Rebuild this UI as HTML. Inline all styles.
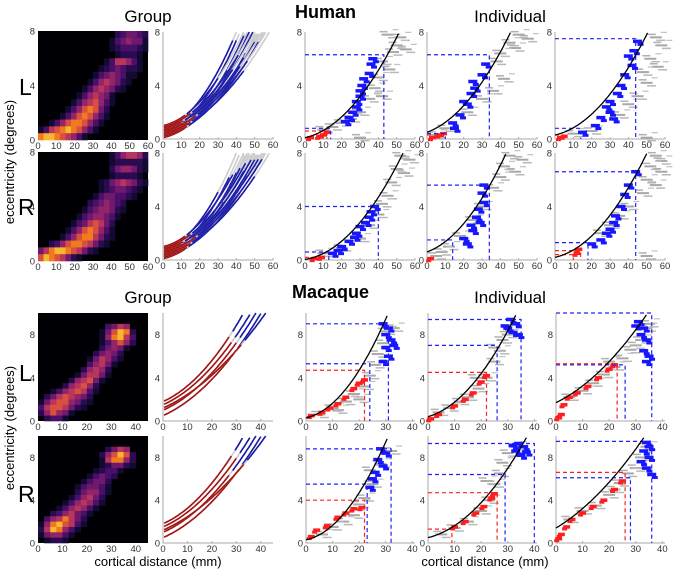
<!DOCTYPE html>
<html><head><meta charset="utf-8"><style>
html,body{margin:0;padding:0;background:#fff;}
svg{display:block;font-family:"Liberation Sans",sans-serif;}
</style></head><body>
<svg id="fig" width="676" height="574" viewBox="0 0 676 574">
<text x="148" y="22" font-size="17" text-anchor="middle">Group</text>
<text x="295" y="18" font-size="18" font-weight="bold">Human</text>
<text x="510" y="22" font-size="17" text-anchor="middle">Individual</text>
<text x="148" y="303" font-size="17" text-anchor="middle">Group</text>
<text x="292" y="298" font-size="18" font-weight="bold">Macaque</text>
<text x="510" y="303" font-size="17" text-anchor="middle">Individual</text>
<text x="19" y="95" font-size="23">L</text>
<text x="18" y="215" font-size="23">R</text>
<text x="19" y="381" font-size="23">L</text>
<text x="18" y="502" font-size="23">R</text>
<text transform="translate(14,162) rotate(-90)" font-size="13" text-anchor="middle">eccentricity (degrees)</text>
<text transform="translate(14,428) rotate(-90)" font-size="13" text-anchor="middle">eccentricity (degrees)</text>
<text x="158" y="566" font-size="13" text-anchor="middle">cortical distance (mm)</text>
<text x="485" y="566" font-size="13" text-anchor="middle">cortical distance (mm)</text>
</svg>
<script>
// ---------- data ----------
const heatHL=["00000000000000234432","00000000000001345441","00000000000001233321","00000000000000122210","00000000000013665310","00000000000123432210","00000000001345431100","00000000013565421000","00000000135654210000","00000001356541000000","00000013567531000000","00000135787420000000","00001357875310000000","00135788753100000000","13678987531000000000","89987653100000000000"];
const heatHR=["00000000000001356652","00000000000001222221","00000000000002455421","00000000000001222210","00000000000124565421","00000000000123443210","00000000001344332100","00000000023454320000","00000000134554210000","00000001345543100000","00000013467642000000","00000135787531000000","00001357886421000000","00235788764210000000","46899876421000000000","79876421000000000000"];
const heatML=["000000000000000000","000000000000000000","000000000003465000","000000000014798200","000000000015896300","000000000013575200","000000000024541000","000000000245420000","000000001465310000","000000003564100000","000000025652000000","000000146641000000","000002567410000000","000025675200000000","001356763100000000","024676542000000000","146775421000000000","367764210000000000","257541000000000000","023310000000000000"];
const heatMR=["000000000000000000","000000000000000000","000000000002465000","000000000025797200","000000000016885200","000000000012442100","000000000123310000","000000001343200000","000000013442000000","000000134431000000","000000245531000000","000001356420000000","000013565310000000","000135653100000000","002356431000000000","035686420000000000","158976310000000000","269853100000000000","145531000000000000","012210000000000000"];
const infernoColors=["#000004","#120a30","#2a0b52","#4a0f68","#6e186e","#93246a","#b8365c","#d9513e","#f07a20","#f8b82e"];

const hCurveA=[0.8,0.5,1.0,0.3,0.6,0.2,0.9,0.4,0.7,0.1,0.5,0.3,0.8,0.2,0.6,0.4];
const hCurveC=[0.00375,0.00354,0.00293,0.00314,0.00284,0.00289,0.00246,0.00255,0.00232,0.00245,0.0022,0.00218,0.00191,0.00203,0.00182,0.00174];
const hCurveB=0.03;
const hRedEnd=[8,10,12,14,9,11,15,13,10,12,16,14,11,13,18,15];
const hBlueEndL=[38,40,30,44,35,47,41,49,38,45,44,50,42,52,46,44];
const hBlueEndR=[30,36,38,40,42,33,45,44,48,40,50,46,52,42,54,50];
const mCurveA=[1.8,1.5,1.0,0.5,1.2];
const mCurveC=[0.0045,0.0038,0.0036,0.0034,0.0026];
const mCurveB=0.1;
const mRedEndL=[27,28,30,29,32];
const mRedEndR=[28,30,27,31,33];

const indFit=[[0.1,0.03,0.0024],[0.5,0.05,0.0025],[0.3,0.03,0.0024],[0.05,0.02,0.0024],[0.6,0.05,0.0028],[0.2,0.03,0.0025],
 [0.3,0.05,0.0085],[0.4,0.07,0.0065],[1.7,0.12,0.0035],[0.3,0.05,0.0085],[0.5,0.06,0.0052],[1.4,0.15,0.0032]];
const indGray=[
 [[45,7.8],[52,7.6],[50,7.0],[55,6.7],[48,6.5],[42,5.8],[46,5.2],[40,4.6],[38,3.8],[42,3.2],[35,3.0],[30,2.0],[25,1.5],[20,1.2],[15,0.9],[10,0.7],[30,0.1]],
 [[50,7.8],[55,7.5],[45,7.2],[48,6.8],[40,6.4],[38,5.8],[42,4.5],[36,3.6],[30,3.0],[22,2.0],[10,0.8],[5,0.3]],
 [[55,7.6],[58,7.0],[52,6.0],[56,5.4],[48,5.0],[50,4.2],[45,3.2],[40,2.6],[35,1.8],[20,0.6],[10,0.4],[50,0.1]],
 [[52,7.8],[57,7.5],[50,6.8],[54,6.5],[47,5.8],[45,4.8],[42,4.2],[40,3.4],[35,2.6],[30,1.6],[20,0.9],[10,0.5]],
 [[45,7.8],[52,7.5],[42,7.0],[48,6.6],[40,6.2],[36,5.4],[30,4.0],[25,3.0],[18,1.8],[12,1.0],[8,0.6],[5,0.3]],
 [[55,7.8],[58,7.4],[52,7.0],[58,6.6],[50,6.0],[55,5.6],[48,5.0],[40,4.0],[35,3.3],[30,2.6],[25,2.0],[50,0.3]],
 [[5,0.6],[10,1.2],[15,1.8],[18,2.5],[22,3.2],[24,4.2],[26,5.2],[27,6.2],[29,7.2],[30,8.3],[33,8.6],[20,2.0],[12,1.0]],
 [[4,0.8],[8,1.2],[12,1.8],[15,2.2],[19,3.0],[22,4.0],[25,5.5],[27,6.5],[28,7.5],[30,8.0],[18,4.0],[25,6.8]],
 [[5,2.2],[10,2.8],[14,3.5],[18,4.3],[22,5.0],[25,5.8],[28,6.6],[30,7.0],[32,7.5],[34,8.6],[20,5.5],[35,9.0]],
 [[6,0.8],[10,1.5],[14,2.0],[18,2.6],[20,3.6],[22,4.2],[25,5.5],[28,7.4],[32,8.6],[24,6.8]],
 [[5,0.8],[10,1.4],[15,2.0],[20,3.0],[23,4.0],[25,5.5],[27,6.5],[28,7.5],[30,8.4],[22,5.8],[33,9.0]],
 [[5,2.2],[10,3.0],[15,3.5],[20,4.5],[24,5.6],[27,6.5],[30,7.0],[32,8.0],[34,9.0],[22,5.0]]];
const indBlue=[
 [[37,6.0],[36,5.6],[35,4.9],[32,4.5],[31,4.0],[30,3.6],[30,3.2],[28,2.8],[28,2.4],[26,2.0],[24,1.6],[22,1.3]],
 [[32,5.6],[30,4.8],[25,4.3],[26,3.8],[24,3.4],[20,2.8],[22,2.6],[18,1.8],[14,1.2],[15,0.8]],
 [[45,7.3],[43,6.6],[40,6.2],[42,5.5],[38,4.8],[36,4.0],[34,3.4],[30,2.8],[28,2.4],[30,2.0],[25,1.6],[32,1.5],[22,1.0],[15,0.5]],
 [[38,4.0],[36,3.6],[35,3.2],[33,2.8],[30,2.5],[28,2.0],[27,1.7],[24,1.4],[20,1.0],[18,0.7],[15,0.5]],
 [[31,5.6],[30,5.0],[31,4.3],[28,3.8],[27,3.2],[29,2.8],[24,2.6],[25,2.2],[20,1.6],[22,1.2]],
 [[44,6.6],[40,5.6],[38,4.9],[36,4.0],[33,3.3],[32,2.8],[30,2.3],[28,2.0],[25,1.5],[20,1.2]],
 [[29,9.0],[31,8.6],[30,8.0],[32,7.5],[30,6.8],[31,6.0],[29,5.5],[33,7.0]],
 [[31,9.4],[33,9.0],[30,8.6],[32,8.2],[34,8.0],[29,8.8]],
 [[31,9.2],[33,8.6],[32,8.0],[34,7.5],[33,6.5],[35,6.0],[34,5.5],[30,8.8]],
 [[28,8.8],[30,8.4],[27,7.8],[29,7.2],[26,6.6],[25,6.0],[24,5.2]],
 [[34,9.3],[36,9.0],[33,8.6],[35,8.2],[37,8.5],[32,9.1]],
 [[34,9.4],[33,8.6],[35,8.0],[32,7.6],[34,7.0],[36,6.4],[35,9.0]]];
const indRed=[
 [[3,0.1],[8,0.2],[10,0.3],[12,0.5]],
 [[3,0.1],[7,0.3],[9,0.4]],
 [[3,0.1],[5,0.2]],
 [[5,0.1],[9,0.2]],
 [[2,0.1]],
 [[12,0.5],[13,0.8]],
 [[2,0.5],[6,0.8],[9,1.2],[12,1.6],[15,2.2],[18,3.0],[20,3.5],[22,3.8]],
 [[1,0.2],[4,0.6],[10,1.4],[14,2.0],[17,2.6],[20,3.6],[22,4.2]],
 [[1,0.3],[2,0.6],[3,1.5],[5,2.2],[8,2.6],[12,3.2],[16,4.0],[20,4.8],[22,5.2]],
 [[2,0.6],[4,1.2],[8,1.6],[12,2.4],[15,2.8],[18,3.2],[21,3.3]],
 [[10,1.5],[14,2.0],[18,2.8],[21,3.4],[24,4.2],[25,4.6]],
 [[1,0.4],[2,0.8],[4,1.5],[6,2.2],[10,2.8],[14,3.4],[18,4.0],[22,5.0],[25,5.8]]];
const indGuides=[
 [["b",6.3,43],["b",0.8,14],["r",0.6,12]],
 [["b",6.3,34],["b",0.4,10],["r",0.3,5]],
 [["b",7.5,44],["b",0.8,14],["r",0.3,5]],
 [["b",4.0,40],["b",0.6,13],["r",0.2,10]],
 [["b",5.6,34],["b",1.5,14]],
 [["b",6.6,44],["b",1.3,18],["r",0.7,14],["r",0.4,10]],
 [["b",9.0,31],["b",5.3,24],["r",4.7,22]],
 [["b",9.4,35],["b",7.0,26],["r",4.5,22]],
 [["b",10,36],["b",5.2,26],["r",5.3,23]],
 [["b",8.8,32],["b",5.5,23],["r",4.0,22]],
 [["b",9.3,40],["b",6.4,29],["r",4.7,26],["r",1.3,9]],
 [["b",9.5,36],["b",6.1,28],["r",6.6,26]]];
const humanXTicks=[0,10,20,30,40,50,60];
const macXTicks=[0,10,20,30,40];
const yTicks=[0,4,8];

// ---------- drawing ----------
const svg=document.getElementById('fig');
const NS="http://www.w3.org/2000/svg";
function mk(tag,attrs,parent){const e=document.createElementNS(NS,tag);for(const k in attrs)e.setAttribute(k,attrs[k]);(parent||svg).appendChild(e);return e;}
function axes(x0,y0,x1,y1,xmax,ymax){return {sx:v=>x0+v/xmax*(x1-x0),sy:v=>y1-v/ymax*(y1-y0),x0,y0,x1,y1};}
function ticks(ax,xt,g,spine){
  if(spine){
    const s=mk('path',{d:`M${ax.x0},${ax.y0}V${ax.y1}H${ax.x1}`,fill:'none',stroke:'#aaa','stroke-width':1},g);
    
    
  }
  xt.forEach(v=>{const t=mk('text',{x:ax.sx(v),y:ax.y1+9,'font-size':9.5,'text-anchor':'middle',fill:'#333'},g);t.textContent=v;
    
    
    if(spine) mk('line',{x1:ax.sx(v),x2:ax.sx(v),y1:ax.y1,y2:ax.y1-2,stroke:'#aaa'},g);});
  yTicks.forEach(v=>{const t=mk('text',{x:ax.x0-3,y:ax.sy(v)+3.5,'font-size':9.5,'text-anchor':'end',fill:'#333'},g);t.textContent=v;
    
    });
}
function heat(rows,ax,g){
  mk('rect',{x:ax.x0,y:ax.y0,width:ax.x1-ax.x0,height:ax.y1-ax.y0,fill:'#000004'},g);
  const nr=rows.length,nc=rows[0].length,cw=(ax.x1-ax.x0)/nc,ch=(ax.y1-ax.y0)/nr;
  rows.forEach((r,i)=>{for(let j=0;j<nc;j++){const v=+r[j];if(!v)continue;
    const c=mk('rect',{x:ax.x0+j*cw,y:ax.y0+i*ch,width:cw+0.3,height:ch+0.3,fill:infernoColors[v]},g);
    
    }});
}
function curvePath(ax,a,b,c,xs,xe,ymax){let d='';for(let x=xs;x<=xe+0.001;x+=0.5){let y=a+b*x+c*x*x;if(y>ymax)break;d+=(d?'L':'M')+ax.sx(x).toFixed(1)+','+ax.sy(y).toFixed(1);}return d;}
function groupCurves(ax,A,B,C,redEnd,blueEnd,ymax,xmax,g,grayLen){
  A.forEach((a,i)=>{
    const gp=mk('path',{d:curvePath(ax,a,B,C[i],0,xmax,ymax),fill:'none',stroke:'#ccc','stroke-width':1.6},g);
    
    
    const be=blueEnd?blueEnd[i]:xmax;
    const bp=mk('path',{d:curvePath(ax,a,B,C[i],redEnd[i]+(grayLen||0),be,ymax),fill:'none',stroke:'#1a1aa8','stroke-width':1.6},g);
    
    
    const rp=mk('path',{d:curvePath(ax,a,B,C[i],0.5,redEnd[i],ymax),fill:'none',stroke:'#a31414','stroke-width':1.6},g);
    
    
  });
}
function streaks(ax,pts,col,w,h,g,name,dx,dy){pts.forEach(p=>{const r=mk('rect',{x:ax.sx(p[0])-w/2+dx,y:ax.sy(p[1])-h/2+dy,width:w,height:h,fill:col},g);
  
  });}
function individual(ax,k,xmax,ymax,g){
  streaks(ax,indGray[k],'#a8a8a8',12,2,g,'gray-point',0,0);
  streaks(ax,indGray[k],'#b8b8b8',9,1.5,g,'gray-point',5,3);
  streaks(ax,indGray[k],'#b0b0b0',8,1.5,g,'gray-point',-4,-3);
  streaks(ax,indGray[k],'#c0c0c0',6,1.2,g,'gray-point',8,-5);
  streaks(ax,indBlue[k],'#1616ff',9,3.5,g,'blue-point',0,0);
  streaks(ax,indBlue[k],'#1616ff',6,3,g,'blue-point',3,3);
  streaks(ax,indRed[k],'#ff1e1e',7,3.5,g,'red-point',0,0);
  streaks(ax,indRed[k],'#ff1e1e',5,3,g,'red-point',-2,2);
  indGuides[k].forEach(q=>{const col=q[0]=='b'?'#2020ff':'#ff2020';
    const l=mk('path',{d:`M${ax.x0},${ax.sy(q[1])}H${ax.sx(q[2])}V${ax.y1}`,fill:'none',stroke:col,'stroke-width':1.2,'stroke-dasharray':'4,3'},g);
    
    });
  const f=indFit[k];
  const fp=mk('path',{d:curvePath(ax,f[0],f[1],f[2],0,xmax,ymax),fill:'none',stroke:'#000','stroke-width':1.3},g);
  
  
}
const hRows=[[32,139],[153,260]],mRows=[[313,421],[436,543]];
const indCols=[[305,415],[427,537],[555,665]];
const heatsH=[heatHL,heatHR],heatsM=[heatML,heatMR];
[0,1].forEach(r=>{
  let g=mk('g',{});  
  let ax=axes(38,hRows[r][0]-1,148,hRows[r][1]+1,60,8); heat(heatsH[r],ax,g); ticks(ax,humanXTicks,g,false);
  g=mk('g',{});  
  ax=axes(163,hRows[r][0],273,hRows[r][1],60,8); ticks(ax,humanXTicks,g,true);
  groupCurves(ax,hCurveA,hCurveB,hCurveC,hRedEnd,r?hBlueEndR:hBlueEndL,8,60,g,1);
  indCols.forEach((c,j)=>{g=mk('g',{});  
    ax=axes(c[0],hRows[r][0],c[1],hRows[r][1],60,8); ticks(ax,humanXTicks,g,true); individual(ax,r*3+j,60,8,g);});
  g=mk('g',{});  
  ax=axes(38,mRows[r][0],148,mRows[r][1],45,10); heat(heatsM[r],ax,g); ticks(ax,macXTicks,g,false);
  g=mk('g',{});  
  ax=axes(163,mRows[r][0],273,mRows[r][1],45,10); ticks(ax,macXTicks,g,true);
  groupCurves(ax,mCurveA,mCurveB,mCurveC,r?mRedEndR:mRedEndL,null,10,45,g,1.5);
  indCols.forEach((c,j)=>{g=mk('g',{});  
    ax=axes(c[0]+1,mRows[r][0],c[1],mRows[r][1],41,10); ticks(ax,macXTicks,g,true); individual(ax,6+r*3+j,41,10,g);});
});
</script>
</body></html>
